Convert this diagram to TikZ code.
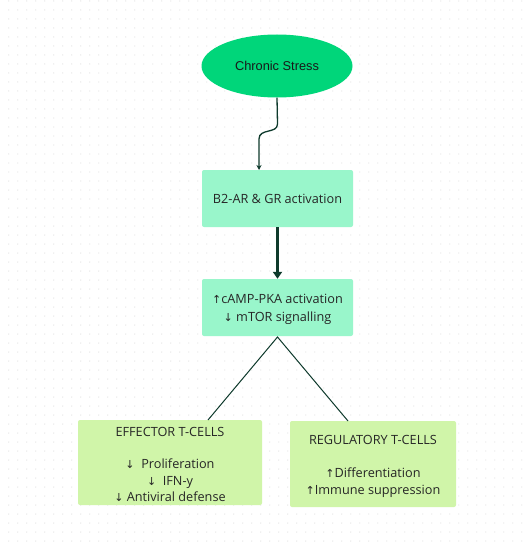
\documentclass[tikz,border=0pt]{standalone}
\usepackage{fontspec}
\setmainfont{Open Sans}
\newfontfamily\arialfont{Liberation Sans}
\newfontfamily\symfont{DejaVu Sans}
\usetikzlibrary{shapes.geometric,arrows.meta}
\definecolor{stressgreen}{RGB}{0,214,122}
\definecolor{mint}{RGB}{153,246,203}
\definecolor{lightgreen}{RGB}{208,245,169}
\definecolor{darkline}{RGB}{14,58,44}
\definecolor{gridgray}{RGB}{230,230,230}
\newcommand{\upa}{{\symfont\fontsize{11}{11}\selectfont ↑}}
\newcommand{\downa}{{\symfont\fontsize{11}{11}\selectfont ↓}}
\tikzset{
  mintbox/.style={fill=mint, rounded corners=2pt, minimum width=151pt, minimum height=57pt, inner sep=0pt, align=center, font=\fontsize{12.7}{18}\selectfont, text=black!85},
  cellbox/.style={fill=lightgreen, rounded corners=2pt, inner sep=0pt},
  celltext/.style={align=center, text=black!85},
}
\begin{document}
\begin{tikzpicture}[x=1pt,y=-1pt]
\useasboundingbox (0,0) rectangle (528,548);
\fill[white] (0,0) rectangle (528,548);
% dot grid
\foreach \i in {0,...,58} {
  \foreach \j in {0,...,60} {
    \fill[gridgray] (8.7+9*\i,1+9*\j) circle (0.7pt);
  }
}
% nodes
\node[ellipse, fill=stressgreen, minimum width=151pt, minimum height=63pt, inner sep=0pt, font=\arialfont\fontsize{12.8}{14}\selectfont, text=black!90] (stress) at (277,66) {Chronic Stress};
\node[mintbox] (b2) at (277.5,198.5) {B2-AR \& GR activation};
\node[mintbox] (camp) at (277.5,307.5) {};
\node[celltext, font=\fontsize{12.7}{18}\selectfont] (campt) at (277.5,309) {\upa cAMP-PKA activation\\\downa\ mTOR signalling};
\node[cellbox, minimum width=184pt, minimum height=85pt] (eff) at (170,462.5) {};
\node[cellbox, minimum width=166pt, minimum height=86pt] (reg) at (373,464) {};
\node[celltext, font=\fontsize{12.7}{14}\selectfont] (efft) at (170,431.5) {EFFECTOR T-CELLS};
\node[celltext, font=\fontsize{12.7}{16.3}\selectfont, anchor=north] (effl) at (170,455.5) {\downa\ \ Proliferation\\\downa\ \ IFN-y\\\downa\ Antiviral defense};
\node[celltext, font=\fontsize{12.7}{14}\selectfont] (regt) at (373,440) {REGULATORY T-CELLS};
\node[celltext, font=\fontsize{12.7}{16.8}\selectfont, anchor=north] (regl) at (373,464) {\upa Differentiation\\\upa Immune suppression};
% connectors
\coordinate (bend1) at (277.5,124);
\coordinate (bend2) at (259,139);
\coordinate (b2top) at (259,170);
\draw[draw=darkline, line width=1.3pt, -{Stealth[length=5pt,width=5pt]}] (stress.south) -- (bend1) .. controls (277.5,134) and (259,128) .. (bend2) -- (b2top);
\draw[draw=darkline, line width=2.6pt, -{Triangle[length=7pt,width=9pt]}] (b2.south) -- (camp.north);
\coordinate (apex) at (277.5,337);
\coordinate (effend) at (208,420);
\coordinate (regend) at (348,421);
\draw[draw=darkline, line width=1pt] (effend) -- (apex) -- (regend);
\end{tikzpicture}
\end{document}
